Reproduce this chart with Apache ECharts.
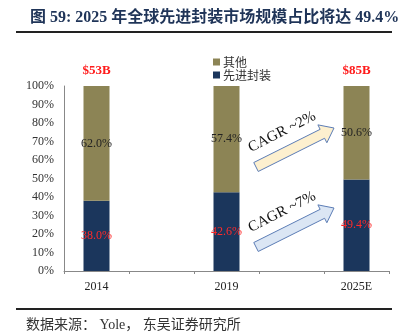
<!DOCTYPE html>
<html><head><meta charset="utf-8">
<script src="https://cdn.jsdelivr.net/npm/echarts@6/dist/echarts.min.js"></script>
<style>html,body{margin:0;padding:0;background:#fff}#c{width:408px;height:336px}</style>
</head><body><div id="c"></div>
<script>
const categories = ['2014', '', '2019', '', '2025E'];
const advanced = [38.0, null, 42.6, null, 49.4];
const others = [62.0, null, 57.4, null, 50.6];
const totals = ['$53B', '', '', '', '$85B'];
const yTicks = [0, 10, 20, 30, 40, 50, 60, 70, 80, 90, 100];
const cagrTexts = ['CAGR ~2%', 'CAGR ~7%'];

const serif = "'Liberation Serif','Times New Roman','Noto Sans CJK SC',serif";
const cjk = "'Liberation Serif','Noto Sans CJK SC',sans-serif";

function arrowPts(x1, y1, x2, y2, sw, hw, hl) {
  const dx = x2 - x1, dy = y2 - y1, L = Math.hypot(dx, dy);
  const ux = dx / L, uy = dy / L, nx = -uy, ny = ux;
  const bx = x2 - ux * hl, by = y2 - uy * hl;
  return [
    [x1 + nx * sw, y1 + ny * sw], [bx + nx * sw, by + ny * sw], [bx + nx * hw, by + ny * hw],
    [x2, y2],
    [bx - nx * hw, by - ny * hw], [bx - nx * sw, by - ny * sw], [x1 - nx * sw, y1 - ny * sw]
  ];
}

const chart = echarts.init(document.getElementById('c'));
const ang = Math.atan2(39, 77);
chart.setOption({
  animation: false,
  title: {
    text: '图 59: 2025 年全球先进封装市场规模占比将达 49.4%',
    left: 25, top: 5,
    textStyle: { fontSize: 16, fontWeight: 'bold', color: '#1f3458', fontFamily: cjk }
  },
  legend: {
    orient: 'vertical', left: 208, top: 51, itemWidth: 7, itemHeight: 7, itemGap: 1,
    icon: 'rect',
    data: ['其他', '先进封装'],
    textStyle: { fontSize: 12, color: '#333', fontFamily: "'Noto Sans CJK SC',sans-serif", padding: [0, 0, 0, -2] }
  },
  grid: { left: 64, right: 19, top: 86, bottom: 65 },
  xAxis: {
    type: 'category', data: categories,
    axisLine: { lineStyle: { color: '#888', width: 1 } },
    axisTick: { show: true, length: 3, lineStyle: { color: '#888' } },
    axisLabel: { color: '#222', fontSize: 12, fontFamily: serif, margin: 10, interval: 0 }
  },
  yAxis: {
    type: 'value', min: 0, max: 100, interval: 10,
    axisLine: { show: true, lineStyle: { color: '#888' } },
    axisTick: { show: false },
    splitLine: { show: false },
    axisLabel: { formatter: '{value}%', color: '#333', fontSize: 12, fontFamily: serif, margin: 10 }
  },
  series: [
    {
      name: '先进封装', type: 'bar', stack: 's', data: advanced, barWidth: 26,
      itemStyle: { color: '#1b365c' },
      label: { show: true, position: 'inside', formatter: p => p.value.toFixed(1) + '%', color: '#ff2a2a', fontSize: 12, fontFamily: serif }
    },
    {
      name: '其他', type: 'bar', stack: 's', data: others, barWidth: 26,
      itemStyle: { color: '#8c8455' },
      label: { show: true, position: 'inside', formatter: p => p.value.toFixed(1) + '%', color: '#222', fontSize: 12, fontFamily: serif }
    },
    {
      name: 'total', type: 'bar', stack: 's', barWidth: 26,
      data: totals.map(t => t ? 0 : null),
      itemStyle: { color: 'transparent' },
      label: { show: true, position: 'top', distance: 9, formatter: p => totals[p.dataIndex], color: '#ff1a1a', fontSize: 13, fontWeight: 'bold', fontFamily: serif }
    }
  ],
  graphic: [
    { type: 'line', shape: { x1: 16, y1: 32, x2: 392, y2: 32 }, style: { stroke: '#222', lineWidth: 2 } },
    { type: 'line', shape: { x1: 16, y1: 309, x2: 392, y2: 309 }, style: { stroke: '#222', lineWidth: 2 } },
    { type: 'text', left: 26, top: 318, style: { text: '数据来源： Yole， 东吴证券研究所', font: "14px 'Liberation Serif','Noto Sans CJK SC',sans-serif", fill: '#333' } },
    { type: 'polygon', shape: { points: arrowPts(256, 167, 334, 128, 5, 10, 13) }, style: { fill: '#fdf0cf', stroke: '#5b7cb5', lineWidth: 1 } },
    { type: 'polygon', shape: { points: arrowPts(256, 247, 334, 208, 5, 10, 13) }, style: { fill: '#dbe6f4', stroke: '#5b7cb5', lineWidth: 1 } },
    { type: 'text', x: 282, y: 132, rotation: ang, style: { text: cagrTexts[0], font: "15px 'Liberation Serif',serif", fill: '#111', align: 'center', verticalAlign: 'middle' } },
    { type: 'text', x: 282, y: 212, rotation: ang, style: { text: cagrTexts[1], font: "15px 'Liberation Serif',serif", fill: '#111', align: 'center', verticalAlign: 'middle' } }
  ]
});
</script></body></html>
